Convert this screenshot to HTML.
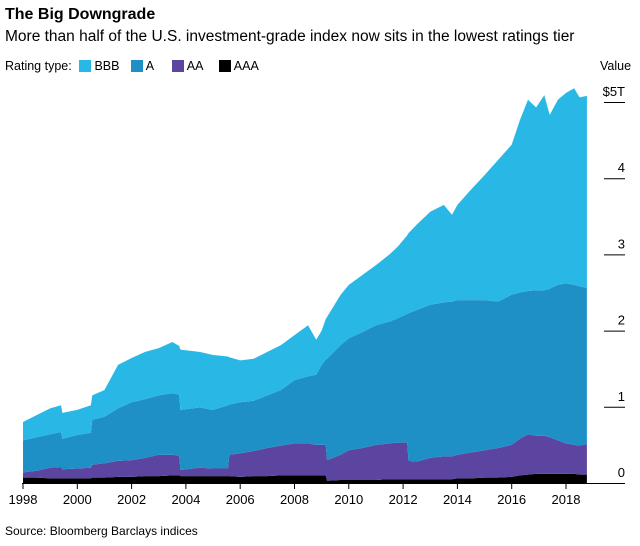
<!DOCTYPE html>
<html><head><meta charset="utf-8">
<style>
body{margin:0;background:#fff;font-family:"Liberation Sans",sans-serif;color:#000}
#wrap{position:relative;width:640px;height:546px;overflow:hidden}
.t{position:absolute;white-space:nowrap}
</style></head><body>
<div id="wrap">
<div class="t" style="left:5px;top:6px;font-size:16px;font-weight:bold">The Big Downgrade</div>
<div class="t" style="left:5px;top:28px;font-size:15.5px">More than half of the U.S. investment-grade index now sits in the lowest ratings tier</div>
<div class="t" style="left:5px;top:59px;font-size:12.5px">Rating type:</div>
<div class="t" style="left:79px;top:59px;font-size:12.5px"><span style="display:inline-block;width:12px;height:12px;background:#29b8e5;vertical-align:-2px"></span> BBB</div>
<div class="t" style="left:131px;top:59px;font-size:12.5px"><span style="display:inline-block;width:12px;height:12px;background:#1e90c6;vertical-align:-2px"></span> A</div>
<div class="t" style="left:172px;top:59px;font-size:12.5px"><span style="display:inline-block;width:12px;height:12px;background:#5c45a0;vertical-align:-2px"></span> AA</div>
<div class="t" style="left:219px;top:59px;font-size:12.5px"><span style="display:inline-block;width:12px;height:12px;background:#000;vertical-align:-2px"></span> AAA</div>
<div class="t" style="left:600px;top:59px;font-size:12.5px">Value</div>
<div class="t" style="left:5px;top:524px;font-size:12px">Source: Bloomberg Barclays indices</div>
<svg id="svg" width="640" height="546" style="position:absolute;left:0;top:0"></svg>
</div>
<script>
const dates=[1998.0,1998.5,1999.0,1999.4,1999.45,2000.0,2000.5,2000.55,2001.0,2001.5,2002.0,2002.5,2003.0,2003.5,2003.75,2003.8,2004.5,2005.0,2005.55,2005.6,2006.0,2006.5,2007.0,2007.5,2008.0,2008.5,2008.8,2009.0,2009.15,2009.2,2009.7,2010.0,2010.5,2011.0,2011.5,2011.8,2012.15,2012.2,2012.5,2013.0,2013.5,2013.8,2014.0,2014.5,2015.0,2015.5,2016.0,2016.3,2016.6,2016.9,2017.2,2017.4,2017.7,2018.0,2018.3,2018.5,2018.77];
const aaa=[.07,.07,.06,.06,.06,.06,.06,.07,.07,.08,.08,.09,.09,.10,.10,.09,.09,.09,.09,.09,.08,.09,.09,.10,.10,.10,.10,.10,.10,.03,.04,.04,.04,.04,.05,.05,.05,.05,.05,.05,.05,.05,.06,.06,.07,.07,.08,.10,.11,.12,.12,.12,.12,.12,.12,.11,.11];
const aa=[.07,.09,.14,.15,.12,.13,.14,.17,.19,.21,.22,.24,.28,.27,.26,.08,.11,.10,.10,.28,.31,.33,.37,.39,.42,.42,.40,.40,.40,.27,.33,.39,.42,.46,.47,.48,.48,.24,.23,.28,.30,.30,.31,.34,.36,.39,.42,.48,.53,.50,.50,.48,.44,.40,.38,.38,.40];
const a=[.42,.44,.44,.46,.40,.44,.46,.59,.61,.69,.76,.77,.78,.81,.80,.79,.79,.77,.83,.66,.67,.66,.69,.73,.83,.88,.92,1.05,1.12,1.33,1.44,1.47,1.52,1.57,1.60,1.63,1.69,1.94,1.99,2.01,2.02,2.03,2.03,2.00,1.97,1.92,1.97,1.92,1.88,1.91,1.91,1.95,2.04,2.10,2.10,2.09,2.05];
const bbb=[.24,.29,.34,.35,.34,.33,.36,.32,.35,.57,.58,.62,.62,.67,.64,.79,.73,.72,.64,.62,.55,.55,.57,.59,.59,.67,.46,.45,.53,.55,.66,.70,.75,.79,.88,.94,1.03,1.05,1.12,1.22,1.28,1.14,1.25,1.45,1.64,1.86,1.97,2.26,2.51,2.40,2.56,2.28,2.43,2.50,2.58,2.48,2.52];
const yTicks=[0,1,2,3,4,5];
const yTickLabels=["0","1","2","3","4","$5T"];
const xTicks=[1998,2000,2002,2004,2006,2008,2010,2012,2014,2016,2018];

const NS="http://www.w3.org/2000/svg";
const svg=document.getElementById('svg');
const X=v=>23+27.15*(v-1998);
const Y=v=>483-76.2*v;
function mk(tag,at){const e=document.createElementNS(NS,tag);for(const k in at)e.setAttribute(k,at[k]);svg.appendChild(e);return e;}
const series=[[aaa,'#000000','area-aaa'],[aa,'#5c45a0','area-aa'],[a,'#1e90c6','area-a'],[bbb,'#29b8e5','area-bbb']];
let base=dates.map(()=>0);
series.forEach(([vals,col,name])=>{
  const top=base.map((b,i)=>b+vals[i]);
  let d='M'+X(dates[0])+','+Y(base[0]);
  dates.forEach((t,i)=>{d+='L'+X(t)+','+Y(top[i]);});
  for(let i=dates.length-1;i>=0;i--)d+='L'+X(dates[i])+','+Y(base[i]);
  const p=mk('path',{d:d+'Z',fill:col});
  
  
  base=top;
});
const ax=mk('line',{x1:22,x2:625,y1:483.5,y2:483.5,stroke:'#000','stroke-width':1});


xTicks.forEach(t=>{
  const l=mk('line',{x1:X(t),x2:X(t),y1:483,y2:489,stroke:'#000'});
  
  
  const tx=mk('text',{x:X(t),y:504,'font-size':13,'text-anchor':'middle','font-family':'Liberation Sans, sans-serif'});
  tx.textContent=t;
  
  
});
yTicks.forEach((v,i)=>{
  if(v>0){const l=mk('line',{x1:604,x2:625,y1:Y(v)+0.5,y2:Y(v)+0.5,stroke:'#000'});
  
  }
  const tx=mk('text',{x:625,y:Y(v)-6,'font-size':13,'text-anchor':'end','font-family':'Liberation Sans, sans-serif'});
  tx.textContent=yTickLabels[i];
  
  
});
</script>
</body></html>
